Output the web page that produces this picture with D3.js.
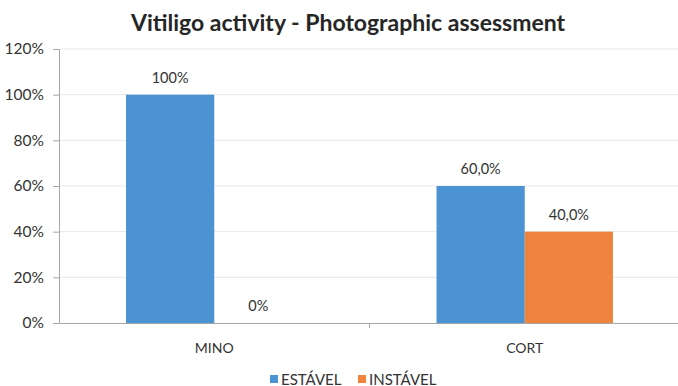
<!DOCTYPE html>
<html>
<head>
<meta charset="utf-8">
<script src="https://cdn.jsdelivr.net/npm/d3@7"></script>
<style>
body { margin: 0; background: #fff; }
text { font-family: Lato, "Open Sans", sans-serif; }
</style>
</head>
<body>
<div class="chart"></div>
<script>
var categories = ['MINO', 'CORT'];
var series = ['ESTÁVEL', 'INSTÁVEL'];
var colors = ['#4b93d2', '#ef843f'];
var estavel = [100, 60];
var instavel = [0, 40];
var valueLabels = [['100%', '0%'], ['60,0%', '40,0%']];
var yTicks = [0, 20, 40, 60, 80, 100, 120];

var W = 678, H = 386;
var margin = {left: 59, right: -2, top: 49, bottom: 63};

var svg = d3.select('.chart')
    .append('svg')
    .attr('width', W)
    .attr('height', H)

var x = d3.scaleBand().domain(categories).range([margin.left, W - margin.right]);
var x1 = d3.scaleBand().domain(series).range([0, x.bandwidth()]).paddingOuter(0.76).paddingInner(0);
var y = d3.scaleLinear().domain([0, 120]).range([H - margin.bottom, margin.top]);

// grid
svg.append('g')
    .selectAll('line')
    .data(yTicks.slice(1))
    .enter()
    .append('line')
    .attr('x1', margin.left)
    .attr('x2', W)
    .attr('y1', function (d) { return y(d); })
    .attr('y2', function (d) { return y(d); })
    .attr('stroke', '#e8e8e8')

var rows = categories.map(function (c, i) {
    return {cat: c, vals: [estavel[i], instavel[i]]};
});

var groups = svg.selectAll('.grp')
    .data(rows)
    .enter()
    .append('g')
    .attr('transform', function (d) { return 'translate(' + x(d.cat) + ',0)'; })

groups.selectAll('rect')
    .data(function (d) { return d.vals; })
    .enter()
    .append('rect')
    .attr('x', function (d, i) { return x1(series[i]); })
    .attr('width', x1.bandwidth())
    .attr('y', function (d) { return y(d); })
    .attr('height', function (d) { return y(0) - y(d); })
    .attr('fill', function (d, i) { return colors[i]; })

groups.selectAll('.lbl')
    .data(function (d, gi) { return d.vals.map(function (v, i) { return {v: v, t: valueLabels[gi][i]}; }); })
    .enter()
    .append('text')
    .attr('x', function (d, i) { return x1(series[i]) + x1.bandwidth() / 2; })
    .attr('y', function (d) { return y(d.v) - 12; })
    .attr('text-anchor', 'middle')
    .style('font-size', '14.5px')
    .attr('fill', '#333')
    .text(function (d) { return d.t; })

// y axis
var yAxis = svg.append('g')
    .attr('transform', 'translate(' + margin.left + ',0)')
    .call(d3.axisLeft(y).tickValues(yTicks).tickFormat(function (d) { return d + '%'; }).tickSize(6).tickPadding(9))
yAxis.selectAll('line, path').attr('stroke', '#a6a6a6')
yAxis.selectAll('text').style('font-size', '15.5px').attr('fill', '#333')

// x axis
var xAxis = svg.append('g')
    .attr('transform', 'translate(0,' + y(0) + ')')
    .call(d3.axisBottom(x).tickSize(0).tickPadding(20))
xAxis.select('path').attr('stroke', '#a6a6a6')
xAxis.selectAll('text').style('font-size', '14px').attr('fill', '#333')
svg.append('line')
    .attr('x1', x('CORT')).attr('x2', x('CORT'))
    .attr('y1', y(0)).attr('y2', y(0) + 5)
    .attr('stroke', '#a6a6a6')

// title
svg.append('text')
    .attr('x', 348)
    .attr('y', 31)
    .attr('text-anchor', 'middle')
    .style('font-size', '23px')
    .style('font-weight', 'bold')
    .attr('fill', '#262626')
    .text('Vitiligo activity - Photographic assessment')

// legend
var leg = svg.append('g').attr('transform', 'translate(270,372)')
var legX = [0, 88];
series.forEach(function (s, i) {
    leg.append('rect')
        .attr('x', legX[i]).attr('y', 3)
        .attr('width', 8).attr('height', 8)
        .attr('fill', colors[i])
    leg.append('text')
        .attr('x', legX[i] + 11).attr('y', 12.5)
        .style('font-size', '15px')
        .attr('fill', '#333')
        .text(s)
});
</script>
</body>
</html>
